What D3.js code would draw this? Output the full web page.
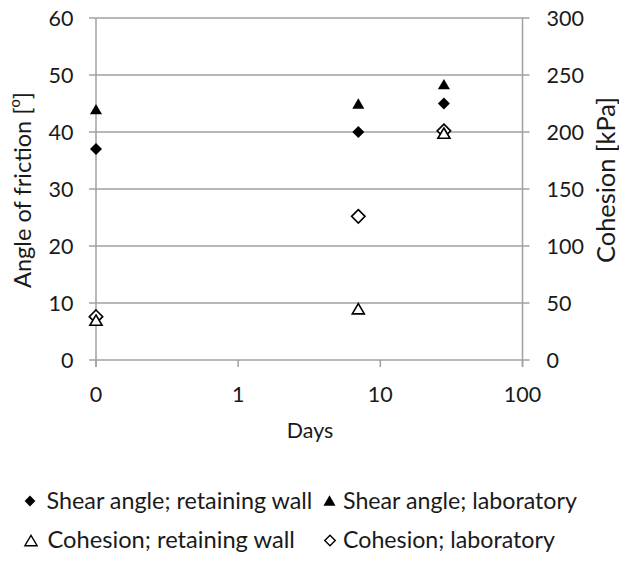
<!DOCTYPE html>
<html>
<head>
<meta charset="utf-8">
<script src="https://cdn.jsdelivr.net/npm/d3@7"></script>
<style>
  html, body { margin: 0; padding: 0; background: #fff; }
  svg text { font-family: Lato, "Open Sans", sans-serif; fill: #1a1a1a; }
</style>
</head>
<body>
<svg id="chart" width="619" height="562"></svg>
<script>
// Test ages in days (day 0 is placed at 0.1 on the log axis and labelled "0")
const days = [0.1, 7, 28];
const dayTicks = [0.1, 1, 10, 100];
const dayTickLabels = ["0", "1", "10", "100"];

// Angle of friction [°]
const shearWall = [37, 40, 45];
const shearLab = [44, 45, 48.4];

// Cohesion [kPa]
const cohesionWall = [35, 45, 199];
const cohesionLab = [38, 126, 201];

const angleTicks = [0, 10, 20, 30, 40, 50, 60];
const cohesionTicks = [0, 50, 100, 150, 200, 250, 300];

const seriesNames = [
  "Shear angle; retaining wall",
  "Shear angle; laboratory",
  "Cohesion; retaining wall",
  "Cohesion; laboratory"
];

const svg = d3.select("#chart");
const W = 619, H = 562;
const margin = { left: 96, right: 96, top: 18, bottom: 202 };
const x0 = margin.left, x1 = W - margin.right - 0.5;
const y0 = H - margin.bottom, y1 = margin.top;

const x = d3.scaleLog().domain([0.1, 100]).range([x0, x1]);
const yL = d3.scaleLinear().domain([0, 60]).range([y0, y1]);
const yR = d3.scaleLinear().domain([0, 300]).range([y0, y1]);

const grey = "#a0a0a0";
const tickFs = 21.5;

// Scale a text element's font so that its rendered length equals `width`
function fitText(sel, width) {
  sel.attr("font-size", 100);
  const len = sel.node().getComputedTextLength();
  sel.attr("font-size", 100 * width / len);
  return sel;
}

// Marker shapes centred on their bounding box
const diamondSym = {
  draw(ctx, size) {
    const r = Math.sqrt(size / 2);
    ctx.moveTo(0, -r); ctx.lineTo(r, 0); ctx.lineTo(0, r); ctx.lineTo(-r, 0); ctx.closePath();
  }
};
const triangleSym = {
  draw(ctx, size) {
    const w = Math.sqrt(size * 2 / 0.85);
    const h = w * 0.85;
    ctx.moveTo(0, -h / 2); ctx.lineTo(w / 2, h / 2); ctx.lineTo(-w / 2, h / 2); ctx.closePath();
  }
};

// Horizontal gridlines with left/right tick marks
const grid = svg.append("g");
grid.selectAll("line.grid").data(angleTicks).join("line")
  .attr("x1", x0 - 7).attr("x2", x1 + 7)
  .attr("y1", d => yL(d)).attr("y2", d => yL(d))
  .attr("stroke", grey).attr("stroke-width", 1.5);

// Vertical axis lines
[x0, x1].forEach(xx => {
  grid.append("line").attr("x1", xx).attr("x2", xx)
    .attr("y1", y1).attr("y2", y0 + 7)
    .attr("stroke", grey).attr("stroke-width", 1.5);
});

// Bottom axis tick marks
grid.selectAll("line.xt").data(dayTicks).join("line")
  .attr("x1", d => x(d)).attr("x2", d => x(d))
  .attr("y1", y0).attr("y2", y0 + 7)
  .attr("stroke", grey).attr("stroke-width", 1.5);

// Tick labels
svg.append("g").selectAll("text").data(angleTicks).join("text")
  .attr("x", 73.5).attr("y", d => yL(d)).attr("dy", "0.36em")
  .attr("text-anchor", "end").attr("font-size", tickFs).text(d => d);

svg.append("g").selectAll("text").data(cohesionTicks).join("text")
  .attr("x", 546.5).attr("y", d => yR(d)).attr("dy", "0.36em")
  .attr("text-anchor", "start").attr("font-size", tickFs).text(d => d);

svg.append("g").selectAll("text").data(dayTicks).join("text")
  .attr("x", d => x(d)).attr("y", 401.5)
  .attr("text-anchor", "middle").attr("font-size", tickFs)
  .text((d, i) => dayTickLabels[i]);

// Axis titles
fitText(svg.append("text").attr("x", 310).attr("y", 438)
  .attr("text-anchor", "middle").text("Days"), 46.5);

const leftTitle = svg.append("text")
  .attr("transform", "translate(31,190) rotate(-90)")
  .attr("text-anchor", "middle");
leftTitle.append("tspan").text("Angle of friction [");
leftTitle.append("tspan").attr("font-size", "0.62em").attr("dy", "-0.75em").text("o");
leftTitle.append("tspan").attr("dy", "0.465em").text("]");
fitText(leftTitle, 196);

fitText(svg.append("text")
  .attr("transform", "translate(615,180) rotate(-90)")
  .attr("text-anchor", "middle")
  .text("Cohesion [kPa]"), 166);

// Series definitions
const series = [
  { name: seriesNames[0], values: shearWall, y: yL, sym: diamondSym, size: 72, fill: "#000", stroke: "none" },
  { name: seriesNames[1], values: shearLab, y: yL, sym: triangleSym, size: 62, fill: "#000", stroke: "none" },
  { name: seriesNames[2], values: cohesionWall, y: yR, sym: triangleSym, size: 62, fill: "#fff", stroke: "#000" },
  { name: seriesNames[3], values: cohesionLab, y: yR, sym: diamondSym, size: 90, fill: "#fff", stroke: "#000" }
];

// Points (open markers drawn last so they sit over the filled ones)
const plot = svg.append("g");
[0, 1, 3, 2].forEach(si => {
  const s = series[si];
  plot.append("g").selectAll("path").data(days).join("path")
    .attr("transform", (d, i) => `translate(${x(d)},${s.y(s.values[i])})`)
    .attr("d", d3.symbol(s.sym, s.size)())
    .attr("fill", s.fill)
    .attr("stroke", s.stroke)
    .attr("stroke-width", 1.6);
});

// Legend: two rows, two entries per row
const legendPos = [
  { mx: 30, my: 501, tx: 46.5, ty: 509, w: 266 },
  { mx: 329.5, my: 500.5, tx: 343, ty: 509, w: 234 },
  { mx: 31, my: 540.5, tx: 47.5, ty: 548, w: 247.5 },
  { mx: 330, my: 540.5, tx: 343, ty: 548, w: 212 }
];
const legendSizes = [58, 62, 64, 55];
const legend = svg.append("g");
series.forEach((s, i) => {
  const p = legendPos[i];
  legend.append("path")
    .attr("transform", `translate(${p.mx},${p.my})`)
    .attr("d", d3.symbol(s.sym, legendSizes[i])())
    .attr("fill", s.fill).attr("stroke", s.stroke).attr("stroke-width", 1.4);
  fitText(legend.append("text").attr("x", p.tx).attr("y", p.ty).text(s.name), p.w);
});
</script>
</body>
</html>
